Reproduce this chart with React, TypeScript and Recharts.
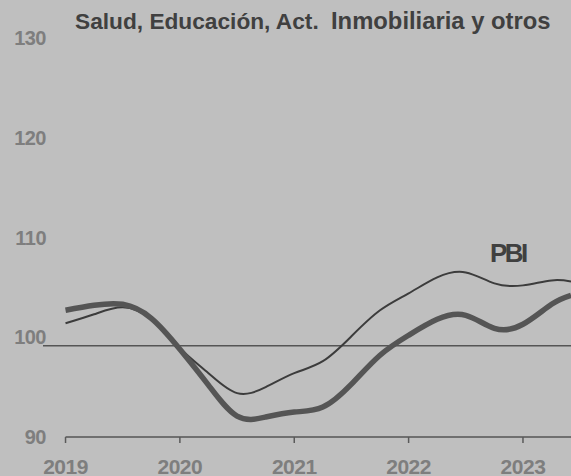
import { LineChart, Line, XAxis, YAxis, ReferenceLine } from "recharts";

// quarterly readings, last point is the latest month shown
const periods = [
  2019, 2019.25, 2019.5, 2019.75, 2020, 2020.25, 2020.5, 2020.75, 2021, 2021.25,
  2021.5, 2021.75, 2022, 2022.25, 2022.5, 2022.75, 2023, 2023.25, 2023.42,
];
const salud = [
  102.7, 103.2, 103.3, 101.9, 98.8, 95.2, 92.1, 92.0, 92.5, 93.0,
  95.3, 98.2, 100.2, 101.8, 102.2, 100.9, 101.3, 103.3, 104.2,
];
const pbi = [
  101.4, 102.3, 103.0, 101.8, 98.9, 96.4, 94.4, 95.0, 96.4, 97.6,
  100.1, 102.7, 104.4, 106.0, 106.5, 105.4, 105.2, 105.7, 105.6,
];
const yearTicks = [2019, 2020, 2021, 2022, 2023];
const valueTicks = [90, 100, 110, 120, 130];
const baseLevel = 99.15;

const FONT = "'Liberation Sans', Arial, sans-serif";

const YearTick = (props: any) => (
  <text
    x={props.x}
    y={466}
    textAnchor="middle"
    dominantBaseline="central"
    fontFamily={FONT}
    fontWeight="bold"
    fontSize={21}
    letterSpacing={-0.5}
    fill="#7e7e7e"
  >
    {props.payload.value}
  </text>
);

const ValueTick = (props: any) => (
  <text
    x={46}
    y={props.y}
    textAnchor="end"
    dominantBaseline="central"
    fontFamily={FONT}
    fontWeight="bold"
    fontSize={20}
    letterSpacing={-0.5}
    fill="#7e7e7e"
  >
    {props.payload.value}
  </text>
);

export default function App() {
  const data = periods.map((p, i) => ({ period: p, salud: salud[i], pbi: pbi[i] }));

  return (
    <div
      style={{
        position: "absolute",
        left: 0,
        top: 0,
        width: 571,
        height: 476,
        background: "#bfbfbf",
        fontFamily: FONT,
        overflow: "hidden",
      }}
    >
      <LineChart width={571} height={476} data={data} margin={{ top: 38, right: 0, bottom: 0, left: 0 }}>
        <XAxis
          type="number"
          dataKey="period"
          domain={[2018.803, 2023.42]}
          ticks={yearTicks}
          interval={0}
          allowDataOverflow
          axisLine={false}
          tickLine={{ stroke: "#5a5a5a", strokeWidth: 1.5 }}
          tickSize={6}
          height={39}
          tick={YearTick}
        />
        <YAxis
          type="number"
          domain={[90, 130]}
          ticks={valueTicks}
          interval={0}
          width={43}
          axisLine={false}
          tickLine={false}
          tick={ValueTick}
        />
        <ReferenceLine y={baseLevel} stroke="#555555" strokeWidth={1.5} />
        <ReferenceLine
          segment={[
            { x: 2019, y: 90 },
            { x: 2023.42, y: 90 },
          ]}
          stroke="#555555"
          strokeWidth={1.5}
        />
        <Line
          type="natural"
          dataKey="pbi"
          stroke="#3c3c3c"
          strokeWidth={2}
          dot={false}
          isAnimationActive={false}
        />
        <Line
          type="natural"
          dataKey="salud"
          stroke="#555555"
          strokeWidth={5.5}
          dot={false}
          isAnimationActive={false}
        />
      </LineChart>

      <div
        style={{
          position: "absolute",
          left: 75,
          top: 10,
          fontSize: 22.7,
          lineHeight: "23px",
          fontWeight: "bold",
          color: "#404040",
          whiteSpace: "nowrap",
        }}
      >
        Salud, Educación, Act.
      </div>
      <div
        style={{
          position: "absolute",
          left: 331,
          top: 9,
          fontSize: 23.8,
          lineHeight: "24px",
          fontWeight: "bold",
          color: "#404040",
          whiteSpace: "nowrap",
        }}
      >
        Inmobiliaria y otros
      </div>
      <div
        style={{
          position: "absolute",
          left: 490,
          top: 240,
          fontSize: 26,
          lineHeight: "26px",
          fontWeight: "bold",
          letterSpacing: -2.5,
          color: "#404040",
        }}
      >
        PBI
      </div>
    </div>
  );
}
